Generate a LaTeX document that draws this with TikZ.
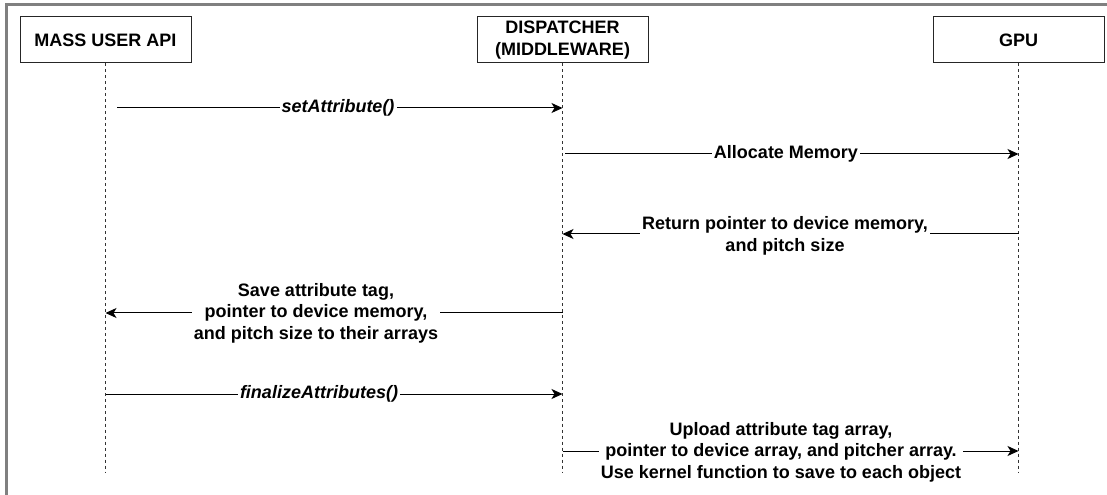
\documentclass[tikz,border=0pt]{standalone}
\usepackage{fontspec}
\setmainfont{Liberation Sans}
\usetikzlibrary{arrows.meta}
\begin{document}
\begin{tikzpicture}[x=0.75pt,y=-0.75pt,
  actor/.style={draw=black!85, line width=0.75pt, fill=white,
    minimum width=128.25pt, minimum height=34.5pt, inner sep=0pt,
    align=center, font=\fontsize{13.5}{16.1}\selectfont\bfseries},
  lifeline/.style={draw=black!80, line width=0.75pt,
    dash pattern=on 2.25pt off 2.25pt},
  msg/.style={draw=black, line width=0.75pt,
    -{Stealth[length=8.25pt, width=7.5pt, inset=2.25pt]}},
  lbl/.style={fill=white, inner xsep=1.5pt, inner ysep=0pt, align=center,
    font=\fontsize{13.5}{16.1}\selectfont\bfseries},
  call/.style={lbl, font=\fontsize{13.5}{16.1}\selectfont\bfseries\itshape},
  frame/.style={draw=gray, line width=1.9pt}
]
\useasboundingbox (0,0) rectangle (1107,495);
\fill[white] (0,0) rectangle (1107,495);

% outer frame (left and top edges)
\coordinate (fbl) at (6.3,495);
\coordinate (ftl) at (6.3,4.7);
\coordinate (ftr) at (1107,4.7);
\draw[frame] (fbl) -- (ftl) -- (ftr);

% participants
\node[actor] (api)  at (105.5,40)  {MASS USER API};
\node[actor] (disp) at (562.5,40)  {DISPATCHER\\(MIDDLEWARE)};
\node[actor] (gpu)  at (1018.5,40) {GPU};

% lifelines
\coordinate (apiEnd)  at (105.5,472);
\coordinate (dispEnd) at (562.5,472);
\coordinate (gpuEnd)  at (1018.5,472);
\draw[lifeline] (api.south)  -- (apiEnd);
\draw[lifeline] (disp.south) -- (dispEnd);
\draw[lifeline] (gpu.south)  -- (gpuEnd);

% message anchors on the lifelines
\coordinate (s1) at (117,108);    \coordinate (t1) at (562.5,108);
\coordinate (s2) at (565,154);    \coordinate (t2) at (1018.5,154);
\coordinate (s3) at (1018.5,234); \coordinate (t3) at (562.5,234);
\coordinate (s4) at (562.5,313);  \coordinate (t4) at (105.5,313);
\coordinate (s5) at (105.5,394);  \coordinate (t5) at (562.5,394);
\coordinate (s6) at (562.5,451);  \coordinate (t6) at (1018.5,451);

% messages
\draw[msg] (s1) -- (t1);
\draw[msg] (s2) -- (t2);
\draw[msg] (s3) -- (t3);
\draw[msg] (s4) -- (t4);
\draw[msg] (s5) -- (t5);
\draw[msg] (s6) -- (t6);

% message labels
\node[call] (m1) at (338,108) {setAttribute()};
\node[lbl]  (m2) at (786,154) {Allocate Memory};
\node[lbl]  (m3) at (785,236) {Return pointer to device memory,\\and pitch size};
\node[lbl]  (m4) at (316,313) {Save attribute tag,\\pointer to device memory,\\and pitch size to their arrays};
\node[call] (m5) at (319,394) {finalizeAttributes()};
\node[lbl]  (m6) at (781,452) {Upload attribute tag array,\\pointer to device array, and pitcher array.\\Use kernel function to save to each object};
\end{tikzpicture}
\end{document}
